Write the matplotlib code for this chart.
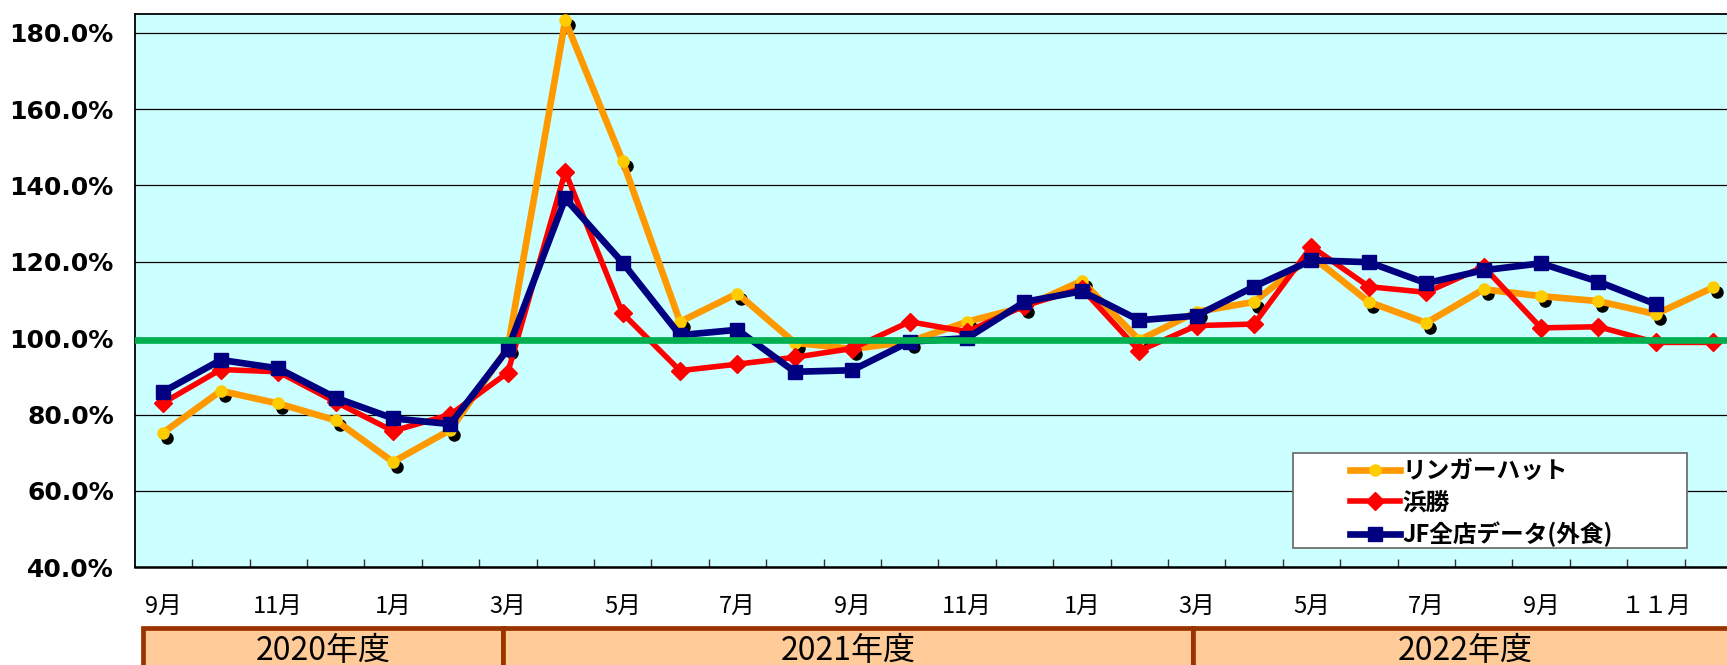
import numpy as np
import matplotlib
matplotlib.use("Agg")
import matplotlib.pyplot as plt
from matplotlib.patches import Rectangle
from matplotlib.transforms import offset_copy

plt.rcParams['font.family'] = ['Noto Sans CJK JP', 'DejaVu Sans']

# ---------------- data ----------------
month_labels = ['9月', '', '11月', '', '1月', '', '3月', '', '5月', '', '7月', '',
                '9月', '', '11月', '', '1月', '', '3月', '', '5月', '', '7月', '',
                '9月', '', '１１月', '']
ringer_hut = [75.3, 86.2, 82.9, 78.5, 67.6, 76.0, 97.5, 183.2, 146.4, 104.3,
              111.7, 98.8, 97.2, 99.1, 104.3, 108.2, 115.0, 99.5, 106.9, 109.5,
              121.5, 109.5, 104.0, 112.8, 111.0, 109.7, 106.3, 113.3]
hamakatsu = [83.1, 91.8, 91.2, 83.3, 75.7, 80.0, 91.0, 143.6, 106.5, 91.5,
             93.2, 95.0, 97.3, 104.3, 101.7, 108.5, 113.0, 96.7, 103.3, 103.7,
             124.0, 113.5, 112.0, 118.7, 102.7, 103.0, 98.9, 98.9]
jf_all = [86.0, 94.3, 92.1, 84.4, 79.0, 77.5, 97.1, 136.6, 119.8, 100.8,
          102.2, 91.2, 91.6, 99.1, 100.0, 109.5, 112.3, 104.7, 105.9, 113.5,
          120.4, 119.9, 114.4, 117.8, 119.6, 114.8, 108.9, None]
series_names = ['リンガーハット', '浜勝', 'JF全店データ(外食)']
fiscal_years = ['2020年度', '2021年度', '2022年度']
baseline = 99.5
y_ticks = [40, 60, 80, 100, 120, 140, 160, 180]

# ---------------- figure ----------------
W, H = 1727, 665
fig = plt.figure(figsize=(W / 100, H / 100), dpi=100)
ax_left, ax_right, ax_top, ax_bottom = 134.7, 1727.0, 14.0, 567.3
ax = fig.add_axes([ax_left / W, (H - ax_bottom) / H,
                   (ax_right - ax_left) / W, (ax_bottom - ax_top) / H])
ax.set_facecolor('#CCFFFF')

x = np.arange(len(month_labels))
jf_arr = np.array([np.nan if v is None else v for v in jf_all], dtype=float)

shadow_tr = offset_copy(ax.transData, fig=fig, x=4, y=-5, units='dots')
ax.plot(x, ringer_hut, linestyle='none', marker='o', ms=8, color='black',
        transform=shadow_tr, zorder=2)
l1, = ax.plot(x, ringer_hut, color='#FF9900', lw=4.8, marker='o', ms=8,
              markerfacecolor='#FFCC00', markeredgecolor='#FFCC00', zorder=3,
              label=series_names[0])
l2, = ax.plot(x, hamakatsu, color='#FF0000', lw=4.0, marker='D', ms=9.5,
              markerfacecolor='#FF0000', markeredgecolor='#FF0000', zorder=4,
              label=series_names[1])
l3, = ax.plot(x, jf_arr, color='#000080', lw=4.8, marker='s', ms=9.5,
              markerfacecolor='#000080', markeredgecolor='#000080', zorder=5,
              label=series_names[2])
ax.axhline(baseline, color='#00B050', lw=4.8, zorder=6)

ax.set_xlim(-0.5, 27.24)
ax.set_ylim(40, 184.9)
ax.set_yticks(y_ticks)
ax.set_yticklabels([f'{v:.1f}%' for v in y_ticks], fontsize=18,
                   fontweight='bold', family='DejaVu Sans')
ax.tick_params(axis='y', length=0, pad=15)
ax.yaxis.grid(True, color='black', lw=0.9)
ax.set_axisbelow(True)

ax.set_xticks(x)
ax.set_xticklabels(month_labels, fontsize=17)
ax.tick_params(axis='x', which='major', length=0, pad=20)
ax.set_xticks(x[:-1] + 0.5, minor=True)
ax.tick_params(axis='x', which='minor', direction='in', length=6, width=1,
               color='#333333')

for side in ['left', 'bottom', 'top']:
    ax.spines[side].set_color('black')
    ax.spines[side].set_linewidth(1.3)
ax.spines['bottom'].set_linewidth(1.8)
ax.spines['right'].set_visible(False)

# legend frame + legend
frame = Rectangle((1293 / W, (H - 547.7) / H), 394 / W, 95 / H,
                  transform=fig.transFigure, facecolor='white',
                  edgecolor='#707070', lw=1.3, zorder=7)
ax.add_patch(frame)
leg = ax.legend(handles=[l1, l2, l3], loc='upper left',
                bbox_to_anchor=(1350 / W, (H - 459) / H),
                bbox_transform=fig.transFigure, frameon=False,
                borderpad=0, borderaxespad=0, handlelength=2.1,
                handletextpad=0.12, labelspacing=0.31,
                prop={'family': ['Noto Sans CJK JP', 'DejaVu Sans'],
                      'weight': 'bold', 'size': 17})
leg.set_zorder(8)

# fiscal year band
band_edges = [143.3, 503.0, 1193.0, 1780.0]
band_top = 627.5
for i, name in enumerate(fiscal_years):
    x0, x1 = band_edges[i], band_edges[i + 1]
    fig.add_artist(Rectangle((x0 / W, -0.2), (x1 - x0) / W,
                             (H - band_top) / H + 0.2,
                             transform=fig.transFigure, facecolor='#FFCC99',
                             edgecolor='#993300', lw=3.4, clip_on=False))
centers = [323, 848, 1465]
for c, name in zip(centers, fiscal_years):
    fig.text(c / W, (H - 651) / H, name, ha='center', va='center',
             fontsize=23, color='black')

fig.savefig('out.png', dpi=100)
